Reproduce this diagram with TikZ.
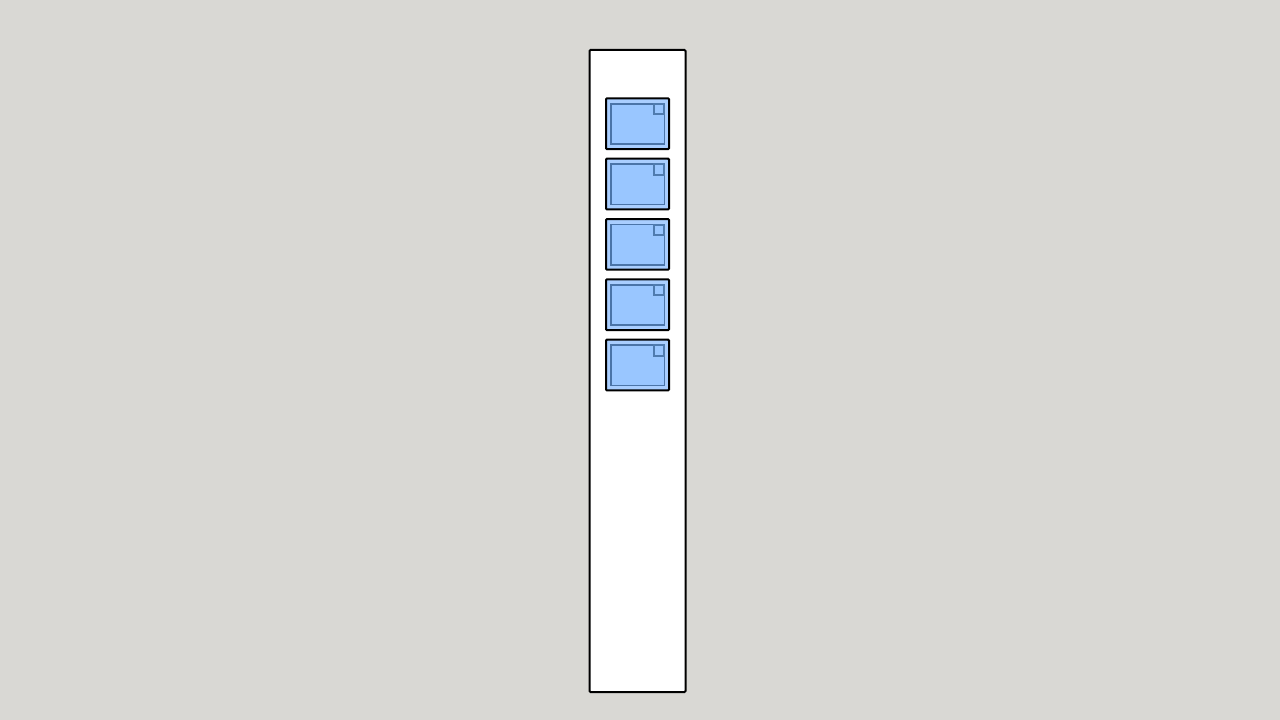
\documentclass[tikz,border=0pt]{standalone}
\usepackage{xcolor}
\usetikzlibrary{positioning}
\definecolor{bggray}{HTML}{D9D8D4}
\definecolor{cardblue}{HTML}{A9CEFF}
\definecolor{innerblue}{HTML}{99C6FF}
\definecolor{edgeblue}{HTML}{4A74A8}
\definecolor{tabblue}{HTML}{4F7BAF}

\begin{document}
\begin{tikzpicture}[
    x=0.75pt, y=-0.75pt,
    panel/.style={rectangle, draw=black, fill=white, line width=1.5pt, rounded corners=0.7pt, inner sep=0pt, minimum width=72pt, minimum height=481.5pt},
    card/.style={rectangle, draw=black, fill=cardblue, line width=1.5pt, rounded corners=0.7pt, inner sep=0pt, minimum width=47.25pt, minimum height=38pt},
    inner/.style={rectangle, draw=edgeblue, fill=innerblue, line width=1.15pt, inner sep=0pt, minimum width=39.9pt, minimum height=30.2pt},
    tab/.style={rectangle, draw=tabblue, fill=innerblue, line width=1.5pt, inner sep=0pt, minimum width=7.6pt, minimum height=7.6pt}
  ]

  \fill[bggray] (0,0) rectangle (1280,720);
  \useasboundingbox (0,0) rectangle (1280,720);

  \node[panel] (col) at (637.5,371) {};

  \node[card] (card1) at (637.5,123.7) {};
  \node[card, below=5.75pt of card1] (card2) {};
  \node[card, below=5.75pt of card2] (card3) {};
  \node[card, below=5.75pt of card3] (card4) {};
  \node[card, below=5.75pt of card4] (card5) {};

  \node[inner, xshift=0.2pt, yshift=-0.2pt] (in1) at (card1.center) {};
  \node[inner, xshift=0.2pt, yshift=-0.2pt] (in2) at (card2.center) {};
  \node[inner, xshift=0.2pt, yshift=-0.2pt] (in3) at (card3.center) {};
  \node[inner, xshift=0.2pt, yshift=-0.2pt] (in4) at (card4.center) {};
  \node[inner, xshift=0.2pt, yshift=-0.2pt] (in5) at (card5.center) {};

  \node[tab, anchor=north east] (tab1) at (in1.north east) {};
  \node[tab, anchor=north east] (tab2) at (in2.north east) {};
  \node[tab, anchor=north east] (tab3) at (in3.north east) {};
  \node[tab, anchor=north east] (tab4) at (in4.north east) {};
  \node[tab, anchor=north east] (tab5) at (in5.north east) {};

\end{tikzpicture}
\end{document}
